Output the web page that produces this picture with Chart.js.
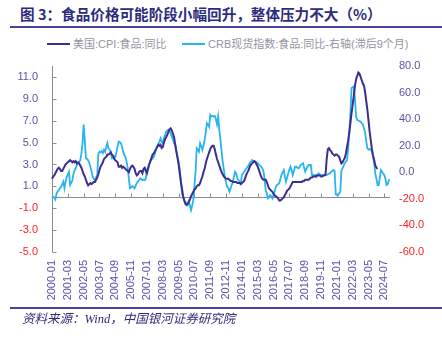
<!DOCTYPE html>
<html lang="zh-CN">
<head>
  <meta charset="UTF-8">
  <title>食品价格可能阶段小幅回升，整体压力不大</title>
  <script src="https://cdn.jsdelivr.net/npm/chart.js"></script>
  <style>
    body { margin: 0; background: #fff; }
    #wrap { position: relative; width: 442px; height: 337px; overflow: hidden; background: #fff; }
    #chart { position: absolute; left: 0; top: 0; }
    .title { position: absolute; left: 20px; top: 6px; font: bold 14.6px/16px "Noto Sans CJK SC", sans-serif; color: #2d2c7c; white-space: nowrap; }
    .rule { position: absolute; left: 10px; right: 0; height: 2px; background: #4b4399; }
    .legend-item { position: absolute; top: 37px; font: 11px/14px "Liberation Sans", "Noto Sans CJK SC", sans-serif; color: #9494a0; white-space: nowrap; }
    .legend-item i { display: inline-block; width: 23px; height: 2px; margin-right: 3px; vertical-align: middle; position: relative; top: -1px; }
    .source { position: absolute; left: 22px; top: 311px; font: italic 12.5px/16px "Liberation Serif", "Noto Sans CJK SC", serif; color: #2d2c7c; white-space: nowrap; }
  </style>
</head>
<body>
<div id="wrap">
  <div class="title">图 3：食品价格可能阶段小幅回升，整体压力不大（%）</div>
  <div class="rule" style="top:26px"></div>
  <div id="legend"></div>
  <canvas id="chart" width="442" height="337"></canvas>
  <div class="rule" style="top:307px"></div>
  <div class="source">资料来源：Wind，中国银河证券研究院</div>
</div>

<script>
  // 美国CPI食品同比（%），2000-01 起按月
  const cpiFood = [
    1.7, 1.9, 2.0, 2.2, 2.4, 2.6, 2.7, 2.6, 2.4, 2.4, 2.6, 2.8,
    3.0, 3.1, 3.2, 3.3, 3.4, 3.3, 3.2, 3.3, 3.2, 3.3, 3.1, 3.2,
    3.1, 2.9, 2.7, 2.4, 2.1, 1.9, 1.6, 1.3, 1.1, 1.2, 1.3, 1.2,
    1.3, 1.4, 1.4, 1.6, 1.8, 2.1, 2.5, 2.8, 3.0, 3.2, 3.5, 3.6,
    3.7, 3.9, 3.9, 4.0, 4.1, 3.9, 3.8, 3.5, 3.4, 3.3, 3.2, 2.8,
    2.8, 2.9, 2.7, 2.8, 2.7, 2.6, 2.5, 2.4, 2.3, 2.6, 2.8, 2.9,
    2.8, 2.6, 2.2, 2.0, 2.1, 2.3, 2.4, 2.4, 2.2, 2.6, 2.7, 2.4,
    2.2, 2.6, 3.0, 3.3, 3.6, 3.9, 4.0, 4.2, 4.4, 4.6, 4.8, 4.7,
    4.8, 4.5, 4.6, 5.0, 5.3, 5.5, 5.7, 6.0, 6.2, 6.3, 6.1, 5.8,
    5.5, 4.8, 4.2, 3.6, 3.0, 2.2, 1.4, 0.8, 0.1, -0.3, -0.6, -0.7,
    -0.6, -0.4, -0.2, 0.1, 0.3, 0.5, 0.7, 0.8, 1.0, 1.1, 1.1, 1.3,
    1.6, 1.9, 2.3, 2.6, 3.1, 3.5, 3.8, 4.1, 4.4, 4.6, 4.7, 4.7,
    4.4, 3.9, 3.5, 3.2, 2.9, 2.6, 2.3, 2.1, 1.9, 1.8, 1.7, 1.7,
    1.7, 1.6, 1.5, 1.5, 1.4, 1.4, 1.4, 1.4, 1.3, 1.3, 1.3, 1.2,
    1.3, 1.4, 1.5, 1.8, 2.1, 2.3, 2.5, 2.8, 3.0, 3.1, 3.2, 3.3,
    3.2, 3.0, 2.8, 2.5, 2.2, 1.9, 1.7, 1.6, 1.6, 1.6, 1.4, 1.1,
    0.8, 0.7, 0.6, 0.5, 0.3, 0.2, 0.1, 0.0, -0.1, -0.3, -0.3, -0.2,
    -0.1, 0.0, 0.2, 0.4, 0.6, 0.7, 0.8, 1.0, 1.2, 1.4, 1.4, 1.4,
    1.4, 1.4, 1.4, 1.4, 1.4, 1.4, 1.5, 1.5, 1.6, 1.6, 1.6, 1.6,
    1.7, 1.8, 1.8, 1.9, 1.9, 1.9, 2.0, 2.0, 2.0, 2.0, 1.9, 1.9,
    2.0, 2.0, 2.1, 3.5, 4.4, 4.5, 4.3, 4.2, 4.0, 3.9, 3.8, 3.9,
    3.9, 3.8, 3.7, 3.4, 3.1, 3.2, 3.4, 3.6, 4.0, 4.6, 5.2, 5.9,
    6.8, 7.7, 8.5, 9.3, 10.2, 10.8, 11.1, 11.4, 11.3, 11.0, 10.7, 10.4,
    10.2, 9.6, 8.8, 8.0, 7.0, 6.0, 5.2, 4.4, 3.8, 3.4, 2.9, 2.7,
    2.6
  ];

  // CRB现货指数:食品同比（%），已滞后9个月，右轴
  const crbFoodLag9 = [
    -19.5, -18.5, -19.0, -20.5, -16.0, -14.5, -13.5, -12.0, -11.0, -9.0, -7.0, -12.0,
    -7.0, -3.5, -1.5, 0.5, -9.5, -8.0, -6.0, -1.0, 1.5, 3.0, 5.5, 6.5,
    8.0, 9.0, 14.0, 22.0, 36.0, 24.0, 10.5, 10.0, 9.0, 7.0, 4.0, 0.5,
    -3.5, -5.0, -6.0, -4.0, -2.0, 14.0, 15.5, 15.0, 16.0, 14.5, 17.0, 15.5,
    19.0, 22.0, 18.0, 17.0, 15.5, 10.5, 11.0, 12.0, 11.5, 15.0, 19.5, 23.0,
    22.5, 22.0, 19.0, 15.5, 13.0, 11.5, 8.0, 3.0, -5.0, -12.0, -11.5, -10.5,
    -11.0, -12.0, -10.0, -8.3, -7.0, -6.0, -4.6, -5.0, -6.0, -5.5, -6.0, -4.6,
    1.7, 4.0, 6.0, 8.0, 9.5, 10.5, 11.7, 14.0, 17.0, 19.3, 21.0, 23.0,
    25.6, 23.0, 21.9, 25.6, 28.0, 30.6, 31.5, 32.0, 31.0, 29.0, 26.8, 24.5,
    22.0, 20.6, 16.0, 12.0, 8.0, 2.0, -5.9, -15.9, -19.0, -21.0, -22.2, -23.5,
    -24.7, -22.2, -25.0, -28.5, -25.0, -21.0, -10.0, 0.4, 18.1, 17.0, 15.5, 21.9,
    20.0, 16.8, 20.0, 24.3, 30.0, 37.0, 36.0, 34.4, 43.2, 42.0, 42.5, 41.9,
    42.5, 40.0, 36.0, 41.9, 31.9, 24.3, 16.0, 8.0, 2.0, -3.4, -8.0, -10.9,
    -12.0, -14.7, -12.0, -9.6, -7.1, -3.0, 0.4, -1.0, -4.6, -6.0, -7.0, -8.3,
    -2.1, -1.0, 0.5, 1.7, 3.0, 4.0, 5.5, 7.0, 8.0, 9.2, 8.5, 8.5,
    8.0, 7.5, 6.8, 6.0, 5.0, 4.2, 3.0, 1.0, -4.6, -13.4, -16.0, -19.7,
    -18.5, -17.2, -18.0, -19.7, -17.0, -14.0, -10.9, -9.5, -9.0, -8.3, -5.0, -2.1,
    0.0, 1.7, -3.0, -7.1, -4.0, -0.8, 2.0, 4.2, 1.5, -2.1, 1.0, 4.2,
    4.2, 3.5, 3.0, 4.0, 5.5, 6.0, 6.8, 3.5, 0.4, 2.5, 4.0, 5.5,
    5.5, 5.5, -2.1, -2.1, -2.1, -2.1, -3.4, -1.5, -0.8, -1.5, -2.5, -2.1,
    -2.1, -2.1, -2.1, -2.1, -1.5, -1.0, -0.8, 0.5, 1.0, 1.7, 1.0, -16.5,
    -17.0, -17.2, -16.0, -14.7, 1.0, 3.0, 5.0, 6.8, 8.0, 9.2, 18.0, 30.0,
    45.0, 63.4, 64.0, 64.6, 55.0, 41.9, 39.4, 39.0, 38.5, 38.2, 37.0, 36.0,
    33.0, 30.0, 23.0, 18.0, 17.0, 17.5, 17.0, 16.0, 12.0, 6.8, -0.8, -5.0,
    -9.6, -9.6, -4.0, 1.7, 0.5, -1.0, -2.1, -5.0, -9.6, -9.0, -6.0, -5.9
  ];

  const seriesNames = ['美国:CPI:食品:同比', 'CRB现货指数:食品:同比-右轴(滞后9个月)'];
  const seriesColors = ['#3c2e8e', '#27b4ef'];

  const xTickLabels = [
    '2000-01', '2001-03', '2002-05', '2003-07', '2004-09', '2005-11', '2007-01', '2008-03',
    '2009-05', '2010-07', '2011-09', '2012-11', '2014-01', '2015-03', '2016-05', '2017-07',
    '2018-09', '2019-11', '2021-01', '2022-03', '2023-05', '2024-07'
  ];
  const leftTicks = [11, 9, 7, 5, 3, 1, -1, -3, -5];
  const rightTicks = [80, 60, 40, 20, 0, -20, -40, -60];

  const AXIS_COLOR = '#8c8c8c';
  const LABEL_COLOR = '#5753a6';
  const NEG_COLOR = '#ff2020';
  const tickFont = { family: '"Liberation Sans", Arial, sans-serif', size: 11 };

  // monthly categories from 2000-01
  const months = crbFoodLag9.map((_, i) =>
    `${2000 + Math.floor(i / 12)}-${String(i % 12 + 1).padStart(2, '0')}`);

  // axis line at zero, left axis line and inward tick marks
  const axisMarks = {
    id: 'axisMarks',
    beforeDatasetsDraw(chart) {
      const { ctx, chartArea, scales: { x, y } } = chart;
      const y0 = Math.round(y.getPixelForValue(0)) + 0.5;
      const xl = Math.round(chartArea.left) + 0.5;
      ctx.save();
      ctx.strokeStyle = AXIS_COLOR;
      ctx.lineWidth = 1;
      ctx.beginPath();
      ctx.moveTo(xl, chartArea.top);
      ctx.lineTo(xl, chartArea.bottom);
      ctx.moveTo(chartArea.left, y0);
      ctx.lineTo(chartArea.right, y0);
      x.ticks.forEach(t => {
        const px = Math.round(x.getPixelForValue(t.value)) + 0.5;
        ctx.moveTo(px, y0);
        ctx.lineTo(px, y0 - 4);
      });
      y.ticks.forEach(t => {
        const py = Math.round(y.getPixelForValue(t.value)) + 0.5;
        ctx.moveTo(xl, py);
        ctx.lineTo(xl + 4, py);
      });
      ctx.stroke();
      ctx.restore();
    }
  };

  const tickColor = c => (c.tick && c.tick.value < 0 ? NEG_COLOR : LABEL_COLOR);

  const chart = new Chart(document.getElementById('chart'), {
    type: 'line',
    data: {
      labels: months,
      datasets: [
        { label: seriesNames[0], data: cpiFood, yAxisID: 'y', borderColor: seriesColors[0], borderWidth: 2 },
        { label: seriesNames[1], data: crbFoodLag9, yAxisID: 'y1', borderColor: seriesColors[1], borderWidth: 1.8 }
      ]
    },
    options: {
      responsive: false,
      animation: false,
      events: [],
      layout: { padding: { top: 66, bottom: 37, left: 0, right: 0 } },
      elements: { point: { radius: 0 }, line: { tension: 0, fill: false } },
      plugins: { legend: { display: false }, tooltip: { enabled: false } },
      scales: {
        x: {
          type: 'category',
          offset: false,
          grid: { display: false, drawTicks: false },
          border: { display: false },
          afterBuildTicks: s => { s.ticks = s.ticks.filter(t => xTickLabels.includes(months[t.value])); },
          afterFit: s => { s.height = 48; },
          ticks: { autoSkip: false, maxRotation: 90, minRotation: 90, padding: 8, color: LABEL_COLOR, font: tickFont }
        },
        y: {
          position: 'left',
          min: -5, max: 12,
          grid: { display: false, drawTicks: false },
          border: { display: false },
          afterBuildTicks: s => { s.ticks = leftTicks.map(v => ({ value: v })); },
          afterFit: s => { s.width = 52; },
          ticks: { padding: 14, color: tickColor, font: tickFont, callback: v => v.toFixed(1) }
        },
        y1: {
          position: 'right',
          min: -60, max: 80,
          grid: { display: false, drawTicks: false },
          border: { display: false },
          afterBuildTicks: s => { s.ticks = rightTicks.map(v => ({ value: v })); },
          afterFit: s => { s.width = 52; },
          ticks: { padding: 9, color: tickColor, font: tickFont, callback: v => v.toFixed(1) }
        }
      }
    },
    plugins: [axisMarks]
  });

  // legend row above the plot
  const legendLeft = [47, 182];
  const legend = document.getElementById('legend');
  chart.data.datasets.forEach((ds, i) => {
    const item = document.createElement('div');
    item.className = 'legend-item';
    item.style.left = legendLeft[i] + 'px';
    item.innerHTML = `<i style="background:${ds.borderColor}"></i>${ds.label}`;
    legend.appendChild(item);
  });
</script>
</body>
</html>
